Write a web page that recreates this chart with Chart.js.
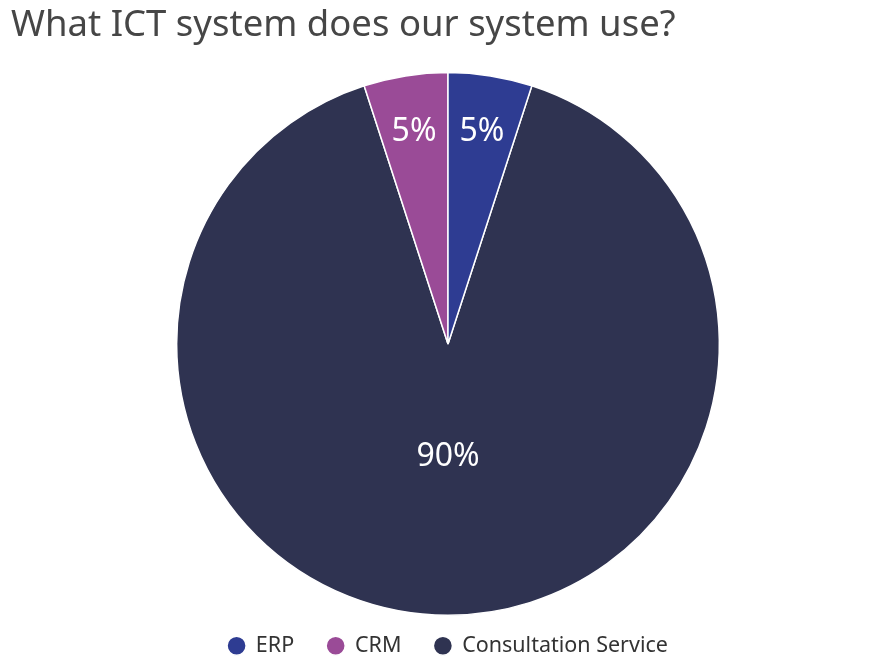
<!DOCTYPE html>
<html>
<head>
<meta charset="utf-8">
<script src="https://cdn.jsdelivr.net/npm/chart.js@4/dist/chart.umd.min.js"></script>
<style>
  html, body { margin: 0; padding: 0; background: #ffffff; }
  #wrap { width: 880px; height: 670px; }
</style>
</head>
<body>
<div id="wrap"><canvas id="c" width="880" height="670"></canvas></div>
<script>
// ---- data ----
const titleText = 'What ICT system does our system use?';
const categories = ['ERP', 'CRM', 'Consultation Service'];
const shares = [5, 5, 90];
const colors = ['#2e3c92', '#9a4b97', '#2f3351'];

// drawing order (clockwise from 18deg): Consultation, CRM, ERP
const order = [2, 1, 0];

const labelPlugin = {
  id: 'sliceLabels',
  afterDatasetsDraw(chart) {
    const ctx = chart.ctx;
    const meta = chart.getDatasetMeta(0);
    const data = chart.data.datasets[0].data;
    const total = data.reduce((a, b) => a + b, 0);
    ctx.save();
    ctx.fillStyle = '#ffffff';
    ctx.font = '32px "Noto Sans"';
    ctx.textAlign = 'center';
    ctx.textBaseline = 'middle';
    meta.data.forEach((arc, i) => {
      const p = arc.getProps(['x', 'y', 'startAngle', 'endAngle', 'outerRadius'], true);
      const mid = (p.startAngle + p.endAngle) / 2;
      const pct = data[i] / total * 100;
      const frac = pct < 50 ? 0.8 : 0.41;
      const r = p.outerRadius * frac;
      ctx.fillText(Math.round(pct) + '%', p.x + Math.cos(mid) * r, p.y + Math.sin(mid) * r + 2);
    });
    ctx.restore();
  }
};

const boxShift = {
  id: 'boxShift',
  beforeInit(chart) {
    const lg = chart.legend;
    if (lg) {
      const od = lg.draw;
      lg.draw = function (a) {
        const t = this.top;
        this.top = t - 14;
        od.call(this, a);
        this.top = t;
      };
    }
    const tb = chart.titleBlock;
    if (tb) {
      const ot = tb.draw;
      tb.draw = function (a) {
        const l = this.left;
        this.left = l - 5;
        ot.call(this, a);
        this.left = l;
      };
    }
  }
};

new Chart(document.getElementById('c'), {
  type: 'pie',
  data: {
    labels: order.map(i => categories[i]),
    datasets: [{
      data: order.map(i => shares[i]),
      backgroundColor: order.map(i => colors[i]),
      borderColor: '#ffffff',
      borderWidth: 1.5
    }]
  },
  options: {
    responsive: false,
    animation: false,
    events: [],
    rotation: 18,
    layout: { padding: { left: 16, right: 0, top: 0, bottom: 0 } },
    plugins: {
      title: {
        display: true,
        text: titleText,
        align: 'start',
        color: '#464646',
        font: { family: '"Noto Sans"', size: 36.5, weight: 'normal', lineHeight: 1.2 },
        padding: { top: 4, bottom: 24 }
      },
      legend: {
        position: 'bottom',
        reverse: true,
        maxHeight: 54,
        labels: {
          usePointStyle: true,
          pointStyle: 'circle',
          boxWidth: 17,
          boxHeight: 13.5,
          padding: 33,
          color: '#333333',
          font: { family: '"Noto Sans"', size: 21.5 }
        }
      },
      tooltip: { enabled: false }
    }
  },
  plugins: [labelPlugin, boxShift]
});
</script>
</body>
</html>
